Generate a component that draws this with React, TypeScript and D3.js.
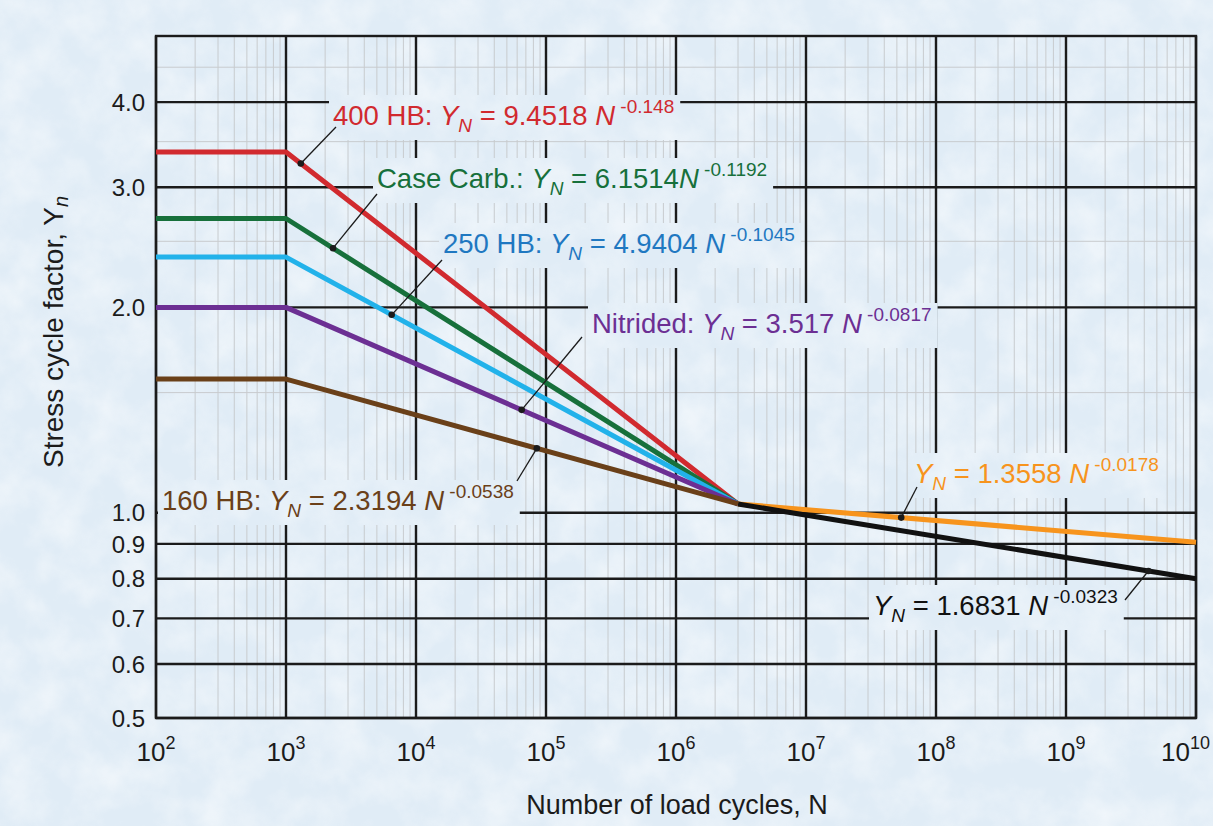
import * as d3 from 'd3';
import React, { useLayoutEffect, useRef, useState } from 'react';

const W = 1213;
const H = 826;
const plot = { left: 156, right: 1196, top: 36, bottom: 718 };

// load cycles where the curves bend (N)
const kneeCycles = [1e2, 1e3, 3e6];
const tailCycles = [3e6, 1e10];

// stress cycle factor read at those cycles
const hb400 = [3.38, 3.38, 1.03];
const caseCarb = [2.7, 2.7, 1.03];
const hb250 = [2.37, 2.37, 1.03];
const nitrided = [2.0, 2.0, 1.03];
const hb160 = [1.57, 1.57, 1.03];
const tailUpper = [1.03, 0.905];
const tailLower = [1.03, 0.8];

const labelNames = ['400 HB: ', 'Case Carb.: ', '250 HB: ', 'Nitrided: ', '160 HB: ', '', ''];
const coefficients = ['9.4518', '6.1514', '4.9404', '3.517', '2.3194', '1.3558', '1.6831'];
const exponents = ['-0.148', '-0.1192', '-0.1045', '-0.0817', '-0.0538', '-0.0178', '-0.0323'];
// where each leader line touches its curve
const leaderCycles = [1.3e3, 2.3e3, 6.5e3, 6.5e4, 8.5e4, 5.4e7, 4.3e9];

const xTickExps = [2, 3, 4, 5, 6, 7, 8, 9, 10];
const yMajor = [0.5, 0.6, 0.7, 0.8, 0.9, 1.0, 2.0, 3.0, 4.0];
const yMinor = [1.5, 2.5, 3.5, 4.5];

const series = [
    { values: hb400, cycles: kneeCycles, color: '#d12a2f', text: '#d12a2f' },
    { values: caseCarb, cycles: kneeCycles, color: '#17703b', text: '#17703b' },
    { values: hb250, cycles: kneeCycles, color: '#22b2ea', text: '#1f78c1' },
    { values: nitrided, cycles: kneeCycles, color: '#6c2f93', text: '#6c2f93' },
    { values: hb160, cycles: kneeCycles, color: '#6a4019', text: '#6a4019' },
    { values: tailUpper, cycles: tailCycles, color: '#f7941d', text: '#f7941d' },
    { values: tailLower, cycles: tailCycles, color: '#111111', text: '#111111' },
];

// label placement: text start x, baseline y, leader end
const labelPos = [
    { x: 333, y: 125, lx: 336, ly: 127 },
    { x: 377, y: 188, lx: 377, ly: 194 },
    { x: 443, y: 253, lx: 442, ly: 260 },
    { x: 592, y: 333, lx: 582, ly: 337 },
    { x: 162, y: 510, lx: 517, ly: 481 },
    { x: 914, y: 483, lx: 917, ly: 487 },
    { x: 873, y: 615, lx: 1125, ly: 600 },
];

const FONT = "'Liberation Sans', Arial, Helvetica, sans-serif";

type Box = { x: number; y: number; width: number; height: number };

const App: React.FC = () => {
    const labelRefs = useRef<(SVGTextElement | null)[]>([]);
    const [boxes, setBoxes] = useState<Box[]>([]);

    const x = d3.scaleLog().domain([1e2, 1e10]).range([plot.left, plot.right]);
    const y = d3.scaleLog().domain([0.5, 5]).range([plot.bottom, plot.top]);

    useLayoutEffect(() => {
        const b = labelRefs.current.map((el) => {
            if (!el) return { x: 0, y: 0, width: 0, height: 0 };
            const r = el.getBBox();
            return { x: r.x - 4, y: r.y - 1, width: r.width + 10, height: r.height + 5 };
        });
        setBoxes(b);
    }, []);

    const line = d3
        .line<[number, number]>()
        .x((d) => x(d[0]))
        .y((d) => y(d[1]));

    const minorX: number[] = [];
    for (let e = 2; e < 10; e++) {
        for (let m = 2; m <= 9; m++) minorX.push(m * Math.pow(10, e));
    }

    // position of a point on a series (straight in log-log)
    const onSeries = (s: (typeof series)[number], n: number) => {
        const lx = s.cycles.map((c) => Math.log10(c));
        const ly = s.values.map((v) => Math.log10(v));
        const ln = Math.log10(n);
        let i = 0;
        while (i < lx.length - 2 && ln > lx[i + 1]) i++;
        const t = (ln - lx[i]) / (lx[i + 1] - lx[i]);
        return Math.pow(10, ly[i] + t * (ly[i + 1] - ly[i]));
    };

    return (
        <svg
            width={W}
            height={H}
            style={{ position: 'absolute', left: 0, top: 0, display: 'block' }}
            fontFamily={FONT}
        >
            <defs>
                <filter id="tex" x="0" y="0" width="100%" height="100%">
                    <feTurbulence type="fractalNoise" baseFrequency="0.025" numOctaves={4} seed={7} />
                    <feColorMatrix
                        type="matrix"
                        values="0 0 0 0 1  0 0 0 0 1  0 0 0 0 1  1.6 0 0 0 -0.55"
                    />
                </filter>
                <mask id="gridMask">
                    <rect x={0} y={0} width={W} height={H} fill="white" />
                    {boxes.map((b, i) => (
                        <rect key={i} x={b.x} y={b.y} width={b.width} height={b.height} fill="black" />
                    ))}
                </mask>
            </defs>

            <rect x={0} y={0} width={W} height={H} fill="#e0ecf6" />
            <rect x={0} y={0} width={W} height={H} filter="url(#tex)" opacity={0.55} />

            <g mask="url(#gridMask)">
                {minorX.map((v, i) => (
                    <line key={'mx' + i} x1={x(v)} x2={x(v)} y1={plot.top} y2={plot.bottom} stroke="#c8cbce" strokeWidth={1} />
                ))}
                {yMinor.map((v, i) => (
                    <line key={'my' + i} x1={plot.left} x2={plot.right} y1={y(v)} y2={y(v)} stroke="#c8cbce" strokeWidth={1} />
                ))}
                {xTickExps.map((e) => (
                    <line key={'vx' + e} x1={x(Math.pow(10, e))} x2={x(Math.pow(10, e))} y1={plot.top} y2={plot.bottom} stroke="#1b1b1b" strokeWidth={2.4} />
                ))}
                {yMajor.map((v, i) => (
                    <line key={'hy' + i} x1={plot.left} x2={plot.right} y1={y(v)} y2={y(v)} stroke="#1b1b1b" strokeWidth={2.4} />
                ))}
            </g>
            <rect
                x={plot.left}
                y={plot.top}
                width={plot.right - plot.left}
                height={plot.bottom - plot.top}
                fill="none"
                stroke="#1b1b1b"
                strokeWidth={2.4}
            />

            {series.map((s, i) => (
                <path
                    key={'s' + i}
                    d={line(s.cycles.map((c, j) => [c, s.values[j]] as [number, number])) || ''}
                    fill="none"
                    stroke={s.color}
                    strokeWidth={5}
                    strokeLinejoin="round"
                />
            ))}

            {series.map((s, i) => {
                const n = leaderCycles[i];
                const px = x(n);
                const py = y(onSeries(s, n));
                const p = labelPos[i];
                return (
                    <g key={'ld' + i}>
                        <line x1={p.lx} y1={p.ly} x2={px} y2={py} stroke="#1b1b1b" strokeWidth={1.3} />
                        <circle cx={px} cy={py} r={3.3} fill="#1b1b1b" />
                    </g>
                );
            })}

            {series.map((s, i) => {
                const p = labelPos[i];
                return (
                    <text
                        key={'lb' + i}
                        ref={(el) => {
                            labelRefs.current[i] = el;
                        }}
                        x={p.x}
                        y={p.y}
                        fill={s.text}
                        fontSize={27.5}
                        style={{ whiteSpace: 'pre' }}
                    >
                        {labelNames[i] && <tspan>{labelNames[i]}</tspan>}
                        <tspan fontStyle="italic">Y</tspan>
                        <tspan fontStyle="italic" fontSize={19} dy={7}>N</tspan>
                        <tspan dy={-7}>{' = ' + coefficients[i] + (i === 1 ? '' : ' ')}</tspan>
                        <tspan fontStyle="italic">N</tspan>
                        <tspan fontSize={19} dy={-12}>{' ' + exponents[i]}</tspan>
                    </text>
                );
            })}

            {yMajor.map((v, i) => (
                <text key={'yt' + i} x={145} y={y(v)} dy="0.36em" textAnchor="end" fontSize={24} fill="#1b1b1b">
                    {v.toFixed(1)}
                </text>
            ))}

            {xTickExps.map((e, i) => {
                const last = i === xTickExps.length - 1;
                return (
                    <text
                        key={'xt' + e}
                        x={last ? W - 3 : x(Math.pow(10, e))}
                        y={761}
                        textAnchor={last ? 'end' : 'middle'}
                        fontSize={26}
                        fill="#1b1b1b"
                    >
                        10
                        <tspan fontSize={18} dy={-12}>{String(e)}</tspan>
                    </text>
                );
            })}

            <text x={677} y={814} textAnchor="middle" fontSize={27} fill="#1b1b1b">
                Number of load cycles, N
            </text>
            <text
                transform={`translate(63, ${332}) rotate(-90)`}
                textAnchor="middle"
                fontSize={28}
                fill="#1b1b1b"
            >
                Stress cycle factor, Y
                <tspan fontStyle="italic" fontSize={20} dy={5}>n</tspan>
            </text>
        </svg>
    );
};

export default App;
